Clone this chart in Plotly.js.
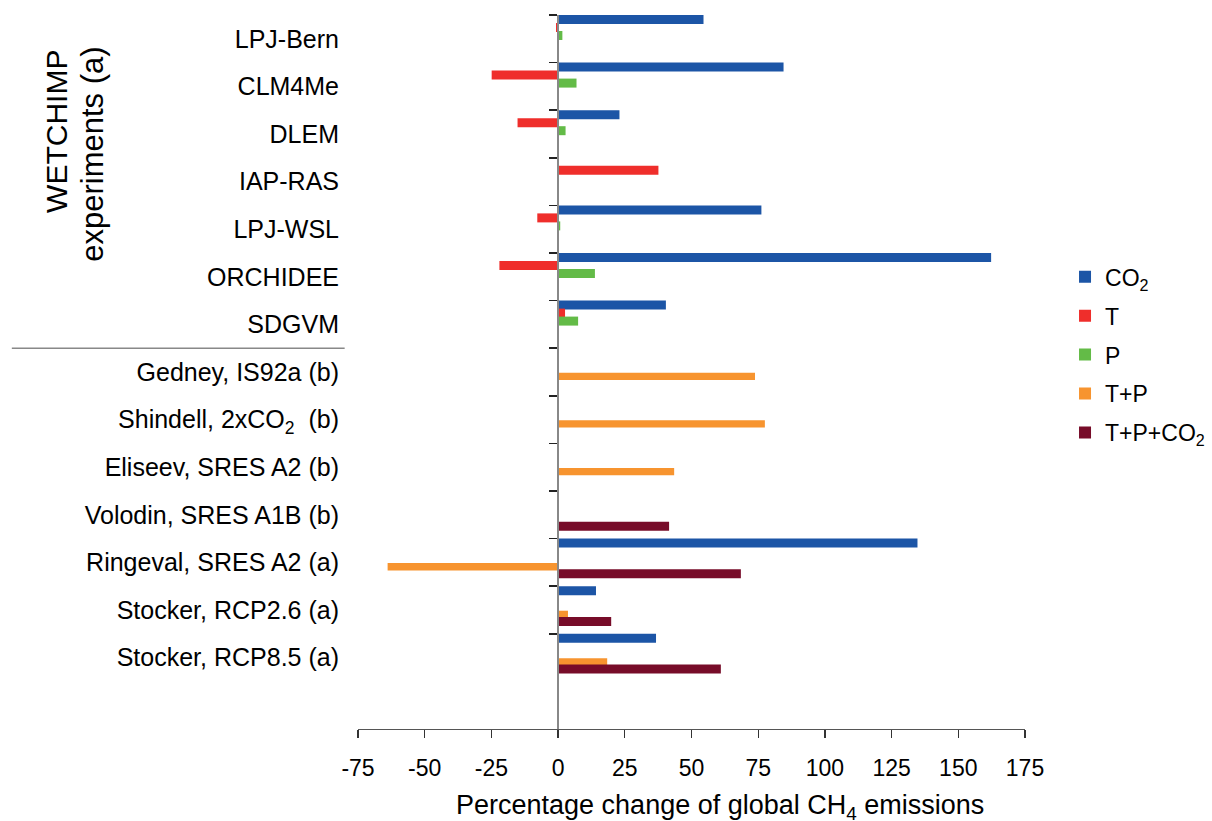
<!DOCTYPE html>
<html>
<head>
<meta charset="utf-8">
<script src="https://cdn.plot.ly/plotly-3.0.1.min.js"></script>
<style>html,body{margin:0;padding:0;background:#fff;}#chart{width:1212px;height:821px;}</style>
</head>
<body>
<div id="chart"></div>
<script>
// ---- data ----
const categories = [
  'LPJ-Bern', 'CLM4Me', 'DLEM', 'IAP-RAS', 'LPJ-WSL', 'ORCHIDEE', 'SDGVM',
  'Gedney, IS92a (b)', 'Shindell, 2xCO<sub>2</sub>  (b)', 'Eliseev, SRES A2 (b)',
  'Volodin, SRES A1B (b)', 'Ringeval, SRES A2 (a)', 'Stocker, RCP2.6 (a)', 'Stocker, RCP8.5 (a)'
];
const seriesNames = ['CO<sub>2</sub>', 'T', 'P', 'T+P', 'T+P+CO<sub>2</sub>'];
const co2Values = [54.5, 84.5, 23.0, null, 76.2, 162.3, 40.4, null, null, null, null, 134.7, 14.2, 36.7];
const tValues   = [-0.8, -24.9, -15.2, 37.6, -7.8, -22.0, 2.6, null, null, null, null, null, null, null];
const pValues   = [1.6, 6.9, 2.8, null, 0.8, 13.8, 7.5, null, null, null, null, null, null, null];
const tpValues  = [null, null, null, null, null, null, null, 73.8, 77.5, 43.5, null, -63.9, 3.7, 18.4];
const tpcValues = [null, null, null, null, null, null, null, null, null, null, 41.6, 68.5, 19.9, 61.0];
const xTickValues = [-75, -50, -25, 0, 25, 50, 75, 100, 125, 150, 175];
const groupLabel1 = 'WETCHIMP';
const groupLabel2 = 'experiments (a)';
const xTitle = 'Percentage change of global CH<sub>4</sub> emissions';

// ---- styles ----
const colors = ['#1c55a6', '#ef2e2b', '#63bb47', '#f7942f', '#770c29'];
const offsets = [-0.5, -0.332, -0.164, 0.015, 0.145];
const widths = [0.189, 0.189, 0.189, 0.153, 0.189];
const FONT = 'Liberation Sans, Arial, Helvetica, sans-serif';
const xRange = [xTickValues[0], xTickValues[xTickValues.length - 1]];
const yRange = [categories.length + 0.5, -0.5];

const seriesValues = [co2Values, tValues, pValues, tpValues, tpcValues];
const traces = seriesValues.map((vals, i) => ({
  type: 'bar',
  orientation: 'h',
  name: seriesNames[i],
  x: vals,
  y: categories,
  yaxis: i === 4 ? 'y2' : 'y',
  offset: offsets[i],
  width: widths[i],
  marker: {color: colors[i], line: {width: 0}},
  legendgroup: 'g' + i,
  hoverinfo: 'x+name'
}));

const zeroPos = (0 - xRange[0]) / (xRange[1] - xRange[0]);

const layout = {
  width: 1212, height: 821,
  margin: {l: 358, r: 187, t: 15, b: 92, autoexpand: false},
  paper_bgcolor: '#ffffff', plot_bgcolor: '#ffffff',
  font: {family: FONT, color: '#000000'},
  barmode: 'overlay',
  showlegend: true,
  legend: {
    x: 1.06, xanchor: 'left', y: 0.524, yanchor: 'middle',
    font: {size: 23, family: FONT, color: '#000'},
    tracegroupgap: 6, traceorder: 'grouped', itemwidth: 30,
    bgcolor: 'rgba(0,0,0,0)'
  },
  xaxis: {
    range: xRange, tickvals: xTickValues, ticktext: xTickValues.map(String),
    ticks: 'outside', ticklen: 8, tickwidth: 1.2, tickcolor: '#333',
    showline: true, linecolor: '#555', linewidth: 1.2,
    showgrid: false, zeroline: false,
    tickfont: {size: 23, family: FONT, color: '#000'},
    ticklabelstandoff: 10,
    automargin: false
  },
  yaxis: {
    type: 'category', categoryorder: 'array', categoryarray: categories,
    range: yRange, autorange: false,
    ticks: '', showline: false, showgrid: false, zeroline: false,
    tickfont: {size: 25, family: FONT, color: '#000'},
    ticklabelstandoff: 18, automargin: false
  },
  yaxis2: {
    type: 'category', categoryorder: 'array', categoryarray: categories,
    range: yRange, autorange: false,
    overlaying: 'y', anchor: 'free', position: zeroPos, side: 'left',
    showticklabels: false, ticks: 'outside', ticklen: 8, tickwidth: 1.5, tickcolor: '#222',
    tickson: 'boundaries',
    showline: true, linecolor: '#888', linewidth: 2,
    showgrid: false, zeroline: false, automargin: false
  },
  shapes: [{
    type: 'line', xref: 'paper', yref: 'y',
    x0: -0.519, x1: -0.02, y0: 6.5, y1: 6.5,
    line: {color: '#888', width: 1.5}
  }],
  annotations: [
    {text: groupLabel1, xref: 'paper', yref: 'paper', x: -0.452, y: 0.837,
     xanchor: 'center', yanchor: 'middle', textangle: -90, showarrow: false,
     font: {size: 30, family: FONT, color: '#000'}},
    {text: groupLabel2, xref: 'paper', yref: 'paper', x: -0.398, y: 0.805,
     xanchor: 'center', yanchor: 'middle', textangle: -90, showarrow: false,
     font: {size: 31, family: FONT, color: '#000'}},
    {text: xTitle, xref: 'paper', yref: 'paper', x: 0.543, y: -0.109,
     xanchor: 'center', yanchor: 'middle', showarrow: false,
     font: {size: 27, family: FONT, color: '#000'}}
  ]
};

Plotly.newPlot('chart', traces, layout, {displayModeBar: false, staticPlot: true});
</script>
</body>
</html>
